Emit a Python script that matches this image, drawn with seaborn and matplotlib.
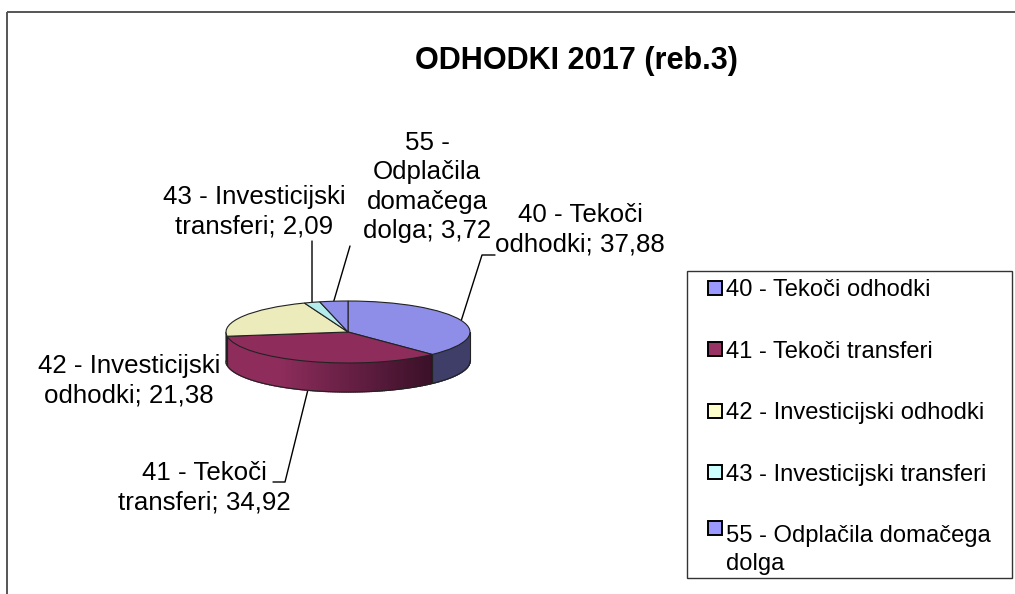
import numpy as np
import matplotlib
matplotlib.use("Agg")
import matplotlib.pyplot as plt
from matplotlib.lines import Line2D
from matplotlib.patches import Polygon, Rectangle
import seaborn as sns

categories = ["40 - Tekoči odhodki", "41 - Tekoči transferi", "42 - Investicijski odhodki",
              "43 - Investicijski transferi", "55 - Odplačila domačega\ndolga"]
values = [37.88, 34.92, 21.38, 2.09, 3.72]
value_labels = ["37,88", "34,92", "21,38", "2,09", "3,72"]
label_text = ["40 - Tekoči\nodhodki; ", "41 - Tekoči\ntransferi; ", "42 - Investicijski\nodhodki; ",
              "43 - Investicijski\ntransferi; ", "55 -\nOdplačila\ndomačega\ndolga; "]
top_colors = ["#8e8ee8", "#8e2d5c", "#ebebbb", "#b4ecec", "#8e8ee8"]
legend_colors = ["#9999ff", "#993366", "#ffffcc", "#ccffff", "#9999ff"]
wall_start = ["#3e3e68", "#8e2d5c", "#8a8a60", "#5a7070", "#3e3e68"]
wall_end = ["#3e3e68", "#3a1028", "#8a8a60", "#5a7070", "#3e3e68"]

sns.set_theme(style="white")
plt.rcParams["font.family"] = ["Liberation Sans", "DejaVu Sans"]

W, H = 1015, 594
fig = plt.figure(figsize=(W / 100, H / 100), dpi=100)

# page axes in pixels, y down
page = fig.add_axes([0, 0, 1, 1])
page.set_xlim(0, W)
page.set_ylim(H, 0)
page.axis("off")
page.add_patch(Rectangle((7.5, 11.5), 1040, 620, fill=False, ec="#555555", lw=1.4, clip_on=True))

# flattened pie, 1 data unit = rx/ry pixels
cx, cy, rx, ry, depth = 348, 332, 122, 31, 29
pie_ax = fig.add_axes([(cx - rx) / W, 1 - (cy + ry + depth) / H, 2 * rx / W, (2 * ry + depth) / H])
pie_ax.pie(values, colors=top_colors, startangle=90, counterclock=False, radius=1,
           wedgeprops={"edgecolor": "#222222", "linewidth": 0.8, "zorder": 5})
pie_ax.set_aspect("auto")
pie_ax.set_xlim(-1, 1)
dy = depth / ry
pie_ax.set_ylim(-1 - dy, 1)
pie_ax.axis("off")
for p in pie_ax.patches:
    p.set_clip_on(False)

# side wall
edges = np.cumsum([0] + values) / sum(values) * 360
for i in range(len(values)):
    a0 = 90 - edges[i]
    a1 = 90 - edges[i + 1]
    # only the front half shows
    lo = max(a1, -180)
    hi = min(a0, 0)
    if lo >= hi:
        continue
    angles = np.radians(np.linspace(hi, lo, 120))
    c0 = np.array(matplotlib.colors.to_rgb(wall_start[i]))
    c1 = np.array(matplotlib.colors.to_rgb(wall_end[i]))
    xs = np.cos(angles)
    for j in range(len(angles) - 1):
        # shade runs left to right, flat on the first part
        t = (xs[j] - xs.min()) / (xs.max() - xs.min())
        t = max(0, (t - 0.25) / 0.75)
        col = c0 + (c1 - c0) * t
        x = xs[j:j + 2]
        y = np.sin(angles[j:j + 2])
        pie_ax.add_patch(Polygon(np.c_[np.r_[x, x[::-1]], np.r_[y, y[::-1] - dy]],
                                 fc=col, ec=col, lw=1.0, zorder=2, clip_on=False))
    y = np.sin(angles) - dy
    pie_ax.plot(xs, y, color="#222222", lw=0.8, zorder=3, clip_on=False)
    pie_ax.plot([xs[0], xs[0]], [y[0], y[0] + dy], color="#222222", lw=0.8, zorder=3, clip_on=False)
    pie_ax.plot([xs[-1], xs[-1]], [y[-1], y[-1] + dy], color="#222222", lw=0.8, zorder=3, clip_on=False)

# labels and leaders
mids = (edges[:-1] + edges[1:]) / 2
label_pos = [(580, 230), (204, 488), (129, 381), (254, 212), (427, 187)]
leader_ends = [[(482, 255), (495, 255)], [(285, 482), (273, 482)], None, [(312, 241)], [(350, 246)]]
for i, text in enumerate(label_text):
    page.text(label_pos[i][0], label_pos[i][1], text + value_labels[i], ha="center", va="center",
              fontsize=18.6, color="black", linespacing=1.28)
    if leader_ends[i] is None:
        continue
    ang = np.radians(90 - mids[i])
    sx = cx + rx * np.cos(ang)
    sy = cy - ry * np.sin(ang) + (depth if np.sin(ang) < 0 else 0)
    pts = [(sx, sy)] + leader_ends[i]
    page.plot([q[0] for q in pts], [q[1] for q in pts], color="black", lw=1.0, zorder=6)

page.text(576, 61.5, "ODHODKI 2017 (reb.3)", ha="center", va="center", fontsize=22.1, fontweight="bold", color="black")

# legend, its box drawn apart so the height can match
page.add_patch(Rectangle((687.5, 270.5), 324.5, 307.5, fc="white", ec="#333333", lw=1.0))
handles = [Line2D([], [], linestyle="none", marker="s", markersize=9.6, markerfacecolor=c,
                  markeredgecolor="black", markeredgewidth=1.4) for c in legend_colors]
leg = page.legend(handles, categories, loc="upper left", bbox_to_anchor=(684.5, 270.5, 324.5, 307.5),
                  bbox_transform=page.transData, mode="expand", ncol=1, borderaxespad=0, fontsize=17.1,
                  labelcolor="black", frameon=False, numpoints=1, handlelength=1.82,
                  handletextpad=-0.45, labelspacing=1.66, borderpad=0.37)
leg.get_texts()[-1].set_linespacing(1.36)
# wrapped entry: swatch sits on its first line
last = leg.get_lines()[-1]
last.set_ydata(np.asarray(last.get_ydata()) + 16)

fig.savefig("out.png", dpi=100)
